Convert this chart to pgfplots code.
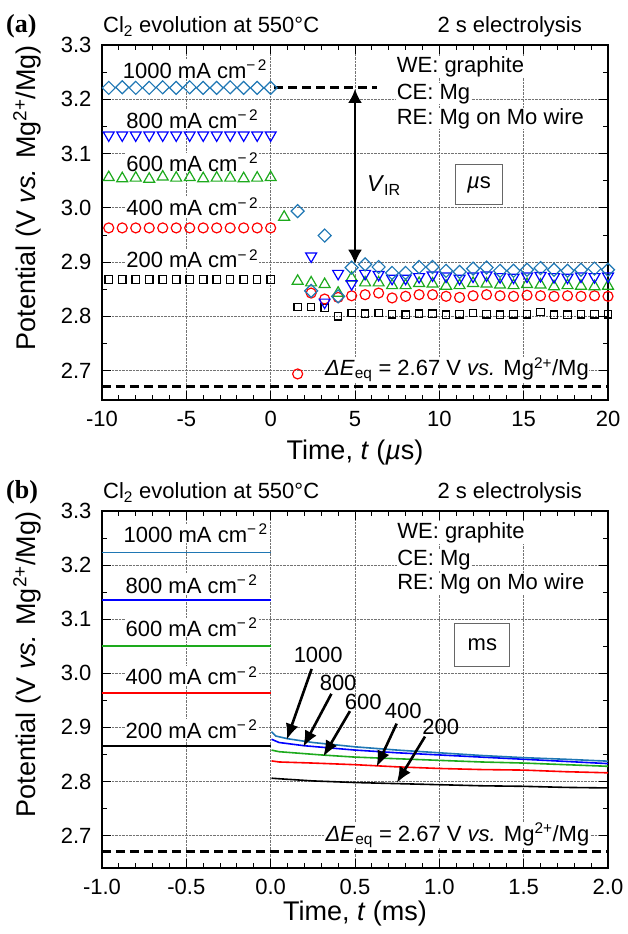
\documentclass[border=0pt]{standalone}
\usepackage{pgfplots}
\pgfplotsset{compat=1.18}
\usepackage{fontspec}
\setmainfont{Liberation Sans}
\newfontfamily\serif{Liberation Serif}
\usetikzlibrary{arrows.meta}

\definecolor{c1000}{HTML}{1F77B4}
\definecolor{c800}{HTML}{0000FF}
\definecolor{c600}{HTML}{1DAA1D}
\definecolor{c400}{HTML}{FF0000}

\newcommand{\fs}[1]{\fontsize{#1}{#1}\selectfont}

\tikzset{
  lbl/.style={font=\fs{22},fill=white,inner sep=0.5pt,anchor=base west},
  boxlbl/.style={draw=black!60,line width=0.8pt,font=\fs{22},fill=white},
  eqline/.style={line width=3pt,dash pattern=on 9pt off 5pt},
  tip/.style={line width=2.6pt,-{Latex[length=16pt,width=13pt]}},
}

\pgfplotsset{
  panel/.style={
    scale only axis, width=506pt,
    ymax=3.3,
    ytick={2.7,2.8,2.9,3.0,3.1,3.2,3.3},
    minor y tick num=1, minor x tick num=4,
    tick align=inside,
    major tick length=9pt, minor tick length=5pt,
    every tick/.style={black,line width=0.9pt},
    axis line style={line width=1.1pt},
    grid=major,
    grid style={densely dotted,black!55,line width=0.7pt},
    tick label style={font=\fs{22}},
    /pgf/number format/assume math mode=true,
    yticklabel style={/pgf/number format/.cd,fixed,fixed zerofill,precision=1},
    yticklabel shift=7pt,
    xticklabel shift=8pt,
    ylabel={Potential (V \textit{vs.} Mg\textsuperscript{2+}/Mg)},
    every axis y label/.style={at={(axis description cs:-0.148,0.57)},rotate=90,anchor=center,font=\fs{27}},
  },
  mk/.style={only marks,line width=1.2pt},
}

\begin{document}
\begin{tikzpicture}
\path[use as bounding box] (-102pt,-66pt) rectangle (525pt,868pt);

% ---------- (a) microseconds ----------
\begin{axis}[panel, at={(0pt,468pt)}, anchor=south west, height=355pt,
  xmin=-10, xmax=20, ymin=2.646,
  xtick={-10,-5,0,5,10,15,20},
  xlabel={Time, \textit{t} (\textit{µ}s)},
  every axis x label/.style={at={(axis description cs:0.5,-0.147)},anchor=center,font=\fs{27}}]

\addplot[mk,black,mark=square,mark size=3.7pt] coordinates {
(-9.6,2.868) (-8.8,2.868) (-8,2.868) (-7.2,2.868) (-6.4,2.868) (-5.6,2.868) (-4.8,2.868)
(-4,2.868) (-3.2,2.868) (-2.4,2.868) (-1.6,2.868) (-0.8,2.868) (0,2.868)
(1.6,2.817) (2.4,2.817) (3.2,2.816) (4,2.800) (4.8,2.806) (5.6,2.805) (6.4,2.806)
(7.2,2.804) (8,2.803) (8.8,2.805) (9.6,2.805) (10.4,2.803) (11.2,2.804) (12,2.806)
(12.8,2.804) (13.6,2.803) (14.4,2.804) (15.2,2.804) (16,2.808) (16.8,2.803)
(17.6,2.803) (18.4,2.804) (19.2,2.804) (20,2.804)};

\addplot[mk,c400,mark=o,mark size=5pt] coordinates {
(-9.6,2.963) (-8.8,2.963) (-8,2.963) (-7.2,2.963) (-6.4,2.963) (-5.6,2.963) (-4.8,2.963)
(-4,2.963) (-3.2,2.963) (-2.4,2.963) (-1.6,2.963) (-0.8,2.963) (0,2.963)
(1.6,2.694) (2.4,2.843) (3.2,2.832) (4,2.835) (4.8,2.838) (5.6,2.840) (6.4,2.843)
(7.2,2.834) (8,2.837) (8.8,2.840) (9.6,2.840) (10.4,2.837) (11.2,2.835) (12,2.838)
(12.8,2.840) (13.6,2.838) (14.4,2.837) (15.2,2.839) (16,2.838) (16.8,2.837)
(17.6,2.838) (18.4,2.837) (19.2,2.838) (20,2.837)};

\addplot[mk,c600,mark=triangle,mark size=6.3pt] coordinates {
(-9.6,3.056) (-8.8,3.054) (-8,3.055) (-7.2,3.053) (-6.4,3.057) (-5.6,3.055) (-4.8,3.056)
(-4,3.054) (-3.2,3.055) (-2.4,3.055) (-1.6,3.054) (-0.8,3.055) (0,3.056)
(0.8,2.983) (1.6,2.865) (2.4,2.862) (3.2,2.859) (4,2.843) (4.8,2.871) (5.6,2.862)
(6.4,2.862) (7.2,2.857) (8,2.857) (8.8,2.861) (9.6,2.860) (10.4,2.856) (11.2,2.857)
(12,2.861) (12.8,2.860) (13.6,2.858) (14.4,2.857) (15.2,2.859) (16,2.858)
(16.8,2.855) (17.6,2.857) (18.4,2.856) (19.2,2.855) (20,2.856)};

\addplot[mk,c800,mark=triangle,mark size=6.3pt,mark options={rotate=180}] coordinates {
(-9.6,3.134) (-8.8,3.134) (-8,3.134) (-7.2,3.134) (-6.4,3.134) (-5.6,3.134) (-4.8,3.134)
(-4,3.134) (-3.2,3.134) (-2.4,3.134) (-1.6,3.134) (-0.8,3.134) (0,3.134)
(1.6,2.636) (2.4,2.911) (3.2,2.826) (4,2.879) (4.8,2.860) (5.6,2.879) (6.4,2.877)
(7.2,2.870) (8,2.870) (8.8,2.873) (9.6,2.876) (10.4,2.874) (11.2,2.870) (12,2.874)
(12.8,2.876) (13.6,2.873) (14.4,2.872) (15.2,2.874) (16,2.875) (16.8,2.873)
(17.6,2.872) (18.4,2.874) (19.2,2.873) (20,2.874)};

\addplot[mk,c1000,mark=square,mark size=4.6pt,mark options={rotate=45}] coordinates {
(-9.6,3.221) (-8.8,3.222) (-8,3.221) (-7.2,3.221) (-6.4,3.222) (-5.6,3.221) (-4.8,3.222)
(-4,3.221) (-3.2,3.221) (-2.4,3.222) (-1.6,3.221) (-0.8,3.221) (0,3.221)
(1.6,2.994) (2.4,2.847) (3.2,2.949) (4,2.837) (4.8,2.890) (5.6,2.896) (6.4,2.891)
(7.2,2.880) (8,2.880) (8.8,2.891) (9.6,2.891) (10.4,2.884) (11.2,2.882) (12,2.888)
(12.8,2.890) (13.6,2.884) (14.4,2.884) (15.2,2.886) (16,2.889) (16.8,2.886)
(17.6,2.884) (18.4,2.886) (19.2,2.888) (20,2.886)};

\draw[eqline] (axis cs:-10,2.67) -- (axis cs:20,2.67);
\draw[eqline] (axis cs:0.2,3.221) -- (axis cs:6.3,3.221);
\draw[line width=2.4pt,{Latex[length=14pt,width=14pt]}-{Latex[length=14pt,width=14pt]}]
  (axis cs:5,3.219) -- (axis cs:5,2.897);

\node[lbl] at (axis cs:-8.8,3.239) {1000 mA cm\textsuperscript{−\,2}};
\node[lbl] at (axis cs:-8.6,3.147) {800 mA cm\textsuperscript{−\,2}};
\node[lbl] at (axis cs:-8.6,3.067) {600 mA cm\textsuperscript{−\,2}};
\node[lbl] at (axis cs:-8.6,2.985) {400 mA cm\textsuperscript{−\,2}};
\node[lbl] at (axis cs:-8.6,2.890) {200 mA cm\textsuperscript{−\,2}};

\node[lbl] at (axis cs:7.44,3.250) {WE: graphite};
\node[lbl] at (axis cs:7.44,3.200) {CE: Mg};
\node[lbl] at (axis cs:7.44,3.154) {RE: Mg on Mo wire};

\node[font=\fs{23},anchor=base west,inner sep=0pt] at (axis cs:5.7,3.030) {\textit{V}\textsubscript{IR}};
\node[boxlbl,minimum width=47pt,minimum height=40pt] at (axis cs:12.35,3.043) {\textit{µ}s};
\node[lbl,anchor=base east] at (axis cs:18.9,2.691)
  {\textit{ΔE}\textsubscript{eq} = 2.67 V \textit{vs.} Mg\textsuperscript{2+}/Mg};
\end{axis}

% ---------- (b) milliseconds ----------
\begin{axis}[panel, at={(0pt,0pt)}, anchor=south west, height=357pt,
  xmin=-1, xmax=2, ymin=2.64,
  xtick={-1,-0.5,0,0.5,1,1.5,2},
  xticklabel style={/pgf/number format/.cd,fixed,fixed zerofill,precision=1},
  xlabel={Time, \textit{t} (ms)},
  every axis x label/.style={at={(axis description cs:0.5,-0.128)},anchor=center,font=\fs{27}}]

\addplot[black,line width=1.6pt] coordinates {(-1,2.866) (-0.5,2.866) (0,2.866)};
\addplot[black,line width=1.6pt] coordinates {
(0.005,2.806) (0.05,2.805) (0.25,2.801) (0.5,2.798) (0.75,2.796) (1.0,2.794)
(1.25,2.792) (1.5,2.791) (1.75,2.789) (2.0,2.788)};

\addplot[c400,line width=1.6pt] coordinates {(-1,2.963) (-0.5,2.963) (0,2.963)};
\addplot[c400,line width=1.6pt] coordinates {
(0.005,2.838) (0.05,2.836) (0.25,2.834) (0.5,2.831) (0.75,2.827) (1.0,2.824)
(1.25,2.822) (1.5,2.821) (1.75,2.818) (2.0,2.816)};

\addplot[c600,line width=1.6pt] coordinates {(-1,3.050) (-0.5,3.050) (0,3.050)};
\addplot[c600,line width=1.6pt] coordinates {
(0.005,2.858) (0.05,2.855) (0.3,2.849) (0.5,2.845) (0.75,2.842) (1.0,2.839)
(1.25,2.836) (1.5,2.834) (1.75,2.831) (2.0,2.828)};

\addplot[c800,line width=1.6pt] coordinates {(-1,3.135) (-0.5,3.135) (0,3.135)};
\addplot[c800,line width=1.6pt] coordinates {
(0.005,2.878) (0.05,2.872) (0.2,2.866) (0.5,2.858) (0.75,2.853) (1.0,2.849)
(1.25,2.845) (1.5,2.841) (1.75,2.837) (2.0,2.833)};

\addplot[c1000,line width=1.6pt] coordinates {(-1,3.2235) (-0.5,3.2235) (0,3.2235)};
\addplot[c1000,line width=1.6pt] coordinates {
(0.005,2.892) (0.03,2.884) (0.1,2.879) (0.25,2.872) (0.5,2.864) (0.75,2.858)
(1.0,2.853) (1.25,2.848) (1.5,2.844) (1.75,2.841) (2.0,2.8375)};

\draw[eqline] (axis cs:-1,2.67) -- (axis cs:2,2.67);

\node[lbl] at (axis cs:-0.876,3.242) {1000 mA cm\textsuperscript{−\,2}};
\node[lbl] at (axis cs:-0.864,3.148) {800 mA cm\textsuperscript{−\,2}};
\node[lbl] at (axis cs:-0.864,3.068) {600 mA cm\textsuperscript{−\,2}};
\node[lbl] at (axis cs:-0.864,2.979) {400 mA cm\textsuperscript{−\,2}};
\node[lbl] at (axis cs:-0.864,2.880) {200 mA cm\textsuperscript{−\,2}};

\node[lbl] at (axis cs:0.747,3.249) {WE: graphite};
\node[lbl] at (axis cs:0.747,3.200) {CE: Mg};
\node[lbl] at (axis cs:0.747,3.154) {RE: Mg on Mo wire};

\node[boxlbl,minimum width=55pt,minimum height=43pt] at (axis cs:1.255,3.052) {ms};

\node[font=\fs{22}] at (axis cs:0.282,3.033) {1000};
\node[font=\fs{22}] at (axis cs:0.400,2.983) {800};
\node[font=\fs{22}] at (axis cs:0.549,2.947) {600};
\node[font=\fs{22}] at (axis cs:0.786,2.931) {400};
\node[font=\fs{22}] at (axis cs:1.008,2.901) {200};
\draw[tip] (axis cs:0.243,3.008) -- (axis cs:0.095,2.877);
\draw[tip] (axis cs:0.360,2.962) -- (axis cs:0.193,2.864);
\draw[tip] (axis cs:0.470,2.930) -- (axis cs:0.312,2.846);
\draw[tip] (axis cs:0.747,2.907) -- (axis cs:0.628,2.827);
\draw[tip] (axis cs:0.915,2.883) -- (axis cs:0.747,2.797);

\node[lbl,anchor=base east] at (axis cs:1.893,2.689)
  {\textit{ΔE}\textsubscript{eq} = 2.67 V \textit{vs.} Mg\textsuperscript{2+}/Mg};
\end{axis}

% panel headers
\node[font=\serif\bfseries\fs{26},anchor=base west,inner sep=0pt] at (-96pt,835pt) {(a)};
\node[font=\fs{22},anchor=base west,inner sep=0pt] at (1pt,835pt) {Cl\textsubscript{2} evolution at 550°C};
\node[font=\fs{22},anchor=base east,inner sep=0pt] at (480pt,835pt) {2 s electrolysis};
\node[font=\serif\bfseries\fs{26},anchor=base west,inner sep=0pt] at (-96pt,369.5pt) {(b)};
\node[font=\fs{22},anchor=base west,inner sep=0pt] at (1pt,369.5pt) {Cl\textsubscript{2} evolution at 550°C};
\node[font=\fs{22},anchor=base east,inner sep=0pt] at (480pt,369.5pt) {2 s electrolysis};
\end{tikzpicture}
\end{document}
